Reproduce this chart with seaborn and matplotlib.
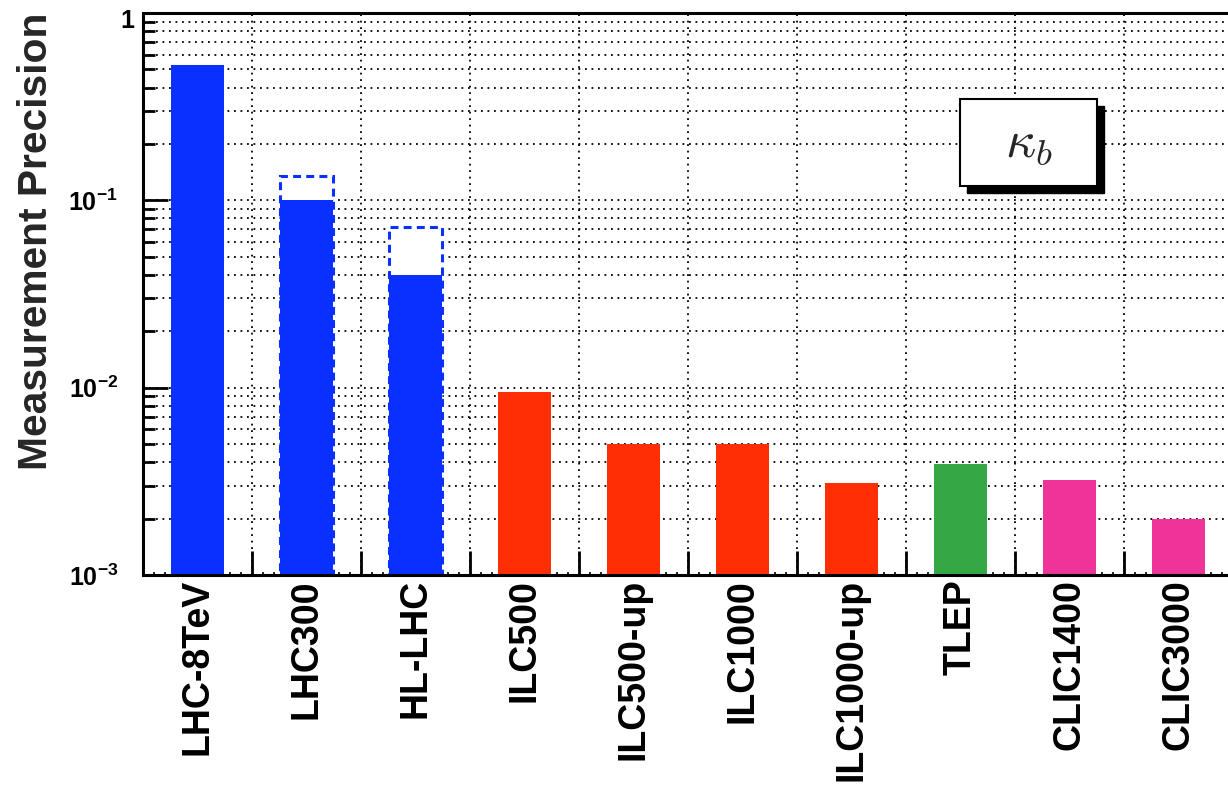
import numpy as np
import matplotlib
matplotlib.use("Agg")
import matplotlib.pyplot as plt
import seaborn as sns
from matplotlib.patches import Rectangle
from matplotlib.ticker import LogLocator, NullFormatter, FixedLocator, FixedFormatter
from matplotlib.transforms import ScaledTranslation

# Facilities and the projected precision on the kappa_b coupling
facilities = ["LHC-8TeV", "LHC300", "HL-LHC", "ILC500", "ILC500-up",
              "ILC1000", "ILC1000-up", "TLEP", "CLIC1400", "CLIC3000"]
precision = [0.53, 0.10, 0.04, 0.0095, 0.0050, 0.0050, 0.0031, 0.0039, 0.0032, 0.0020]

# Upper end of the precision range (dashed outline) for the LHC projections
range_facilities = ["LHC300", "HL-LHC"]
range_upper = [0.135, 0.072]

BLUE, RED, GREEN, PINK = "#0A30FF", "#FF2E05", "#35A846", "#EE3399"
bar_colors = [BLUE] * 3 + [RED] * 4 + [GREEN] + [PINK] * 2

y_major = [1e-3, 1e-2, 1e-1, 1.0]
y_major_labels = [r"$10^{-3}$", r"$10^{-2}$", r"$10^{-1}$", "1"]

sns.set_theme(style="ticks", rc={
    "xtick.bottom": True, "ytick.left": True,
    "xtick.direction": "in", "ytick.direction": "in",
    "xtick.color": "black", "ytick.color": "black",
})
plt.rcParams["font.family"] = ["Liberation Sans", "DejaVu Sans"]
plt.rcParams["mathtext.fontset"] = "custom"
plt.rcParams["mathtext.rm"] = "Liberation Sans:bold"
plt.rcParams["mathtext.it"] = "Liberation Sans:bold:italic"
plt.rcParams["mathtext.bf"] = "Liberation Sans:bold"

fig = plt.figure(figsize=(12.28, 7.93), dpi=100)
ax = fig.add_axes([0.11645, 0.27491, 0.88762, 0.70870])

# dashed outline for the upper end of the range, drawn under the solid bars
sns.barplot(x=range_facilities, y=range_upper, order=facilities, color="white",
            saturation=1, width=0.49, edgecolor=BLUE, linewidth=2.2,
            linestyle=(0, (2.6, 1.7)), ax=ax)
sns.barplot(x=facilities, y=precision, order=facilities, hue=facilities,
            palette=dict(zip(facilities, bar_colors)), saturation=1,
            width=0.49, linewidth=0, legend=False, ax=ax)

ax.set_yscale("log")
ax.set_ylim(1e-3, 1.0)
n = len(facilities)
ax.set_xlim(-0.5, n - 0.5)

# y axis: decades labelled, 2..9 minor ticks
ax.yaxis.set_major_locator(FixedLocator(y_major))
ax.yaxis.set_major_formatter(FixedFormatter(y_major_labels))
ax.yaxis.set_minor_locator(LogLocator(base=10, subs=np.arange(2, 10)))
ax.yaxis.set_minor_formatter(NullFormatter())

# x axis: small ticks every tenth of a category with the names at the
# centres; long ticks (and grid lines) on the category boundaries
steps = np.round(np.arange(-0.5, n - 0.5 + 1e-9, 0.1), 2)
fine = [p for p in steps if abs(p - np.floor(p) - 0.5) > 1e-6]
fine_labels = [facilities[int(round(p))] if abs(p - round(p)) < 1e-6 else "" for p in fine]
ax.xaxis.set_major_locator(FixedLocator(fine))
ax.xaxis.set_major_formatter(FixedFormatter(fine_labels))
ax.xaxis.set_minor_locator(FixedLocator(np.arange(0.5, n - 0.5, 1.0)))
ax.xaxis.set_minor_formatter(NullFormatter())

# dotted grid behind the bars
ax.set_axisbelow(True)
ax.yaxis.grid(True, which="both", color="black", linestyle=(0, (1, 2.6)), linewidth=1.3)
ax.xaxis.grid(True, which="minor", color="black", linestyle=(0, (1, 2.6)), linewidth=1.3)
ax.xaxis.grid(False, which="major")

ax.tick_params(axis="y", which="major", direction="in", length=18, width=2,
               labelsize=18, pad=18, left=True, color="black")
ax.tick_params(axis="y", which="minor", direction="in", length=8.5, width=2,
               left=True, color="black")
ax.tick_params(axis="x", which="major", direction="in", length=2.5, width=1.2,
               labelsize=27, pad=3, bottom=True, labelrotation=90, color="black")
ax.tick_params(axis="x", which="minor", direction="in", length=17, width=2,
               bottom=True, color="black")
for lab in ax.get_yticklabels():
    lab.set_fontweight("bold")
for lab in ax.get_xticklabels():
    lab.set_fontweight("bold")
# the "1" at the top sits closer to the axis than the powers of ten
ytl = ax.get_yticklabels()
ytl[-1].set_transform(ytl[-1].get_transform() + ScaledTranslation(12 / 72, -4 / 72, fig.dpi_scale_trans))

for side in ["left", "bottom", "top"]:
    ax.spines[side].set_visible(True)
    ax.spines[side].set_color("black")
    ax.spines[side].set_linewidth(2.2)
ax.spines["right"].set_visible(False)

ax.set_xlabel("")
ax.set_ylabel("Measurement Precision", fontsize=29.3, fontweight="bold", loc="top")
ax.yaxis.set_label_coords(-0.081, 1.0)

# label box with drop shadow
bx, by, bw, bh = 0.7495, 0.692, 0.1257, 0.155
ax.add_patch(Rectangle((bx + 0.0065, by - 0.0125), bw, bh, transform=ax.transAxes,
                       facecolor="black", edgecolor="black", zorder=5))
ax.add_patch(Rectangle((bx, by), bw, bh, transform=ax.transAxes,
                       facecolor="white", edgecolor="black", linewidth=1.5, zorder=6))
ax.text(bx + bw / 2, by + bh / 2, r"$\kappa_b$", transform=ax.transAxes,
        ha="center", va="center", fontsize=38, math_fontfamily="cm", zorder=7)

fig.savefig("out.png", dpi=100)
